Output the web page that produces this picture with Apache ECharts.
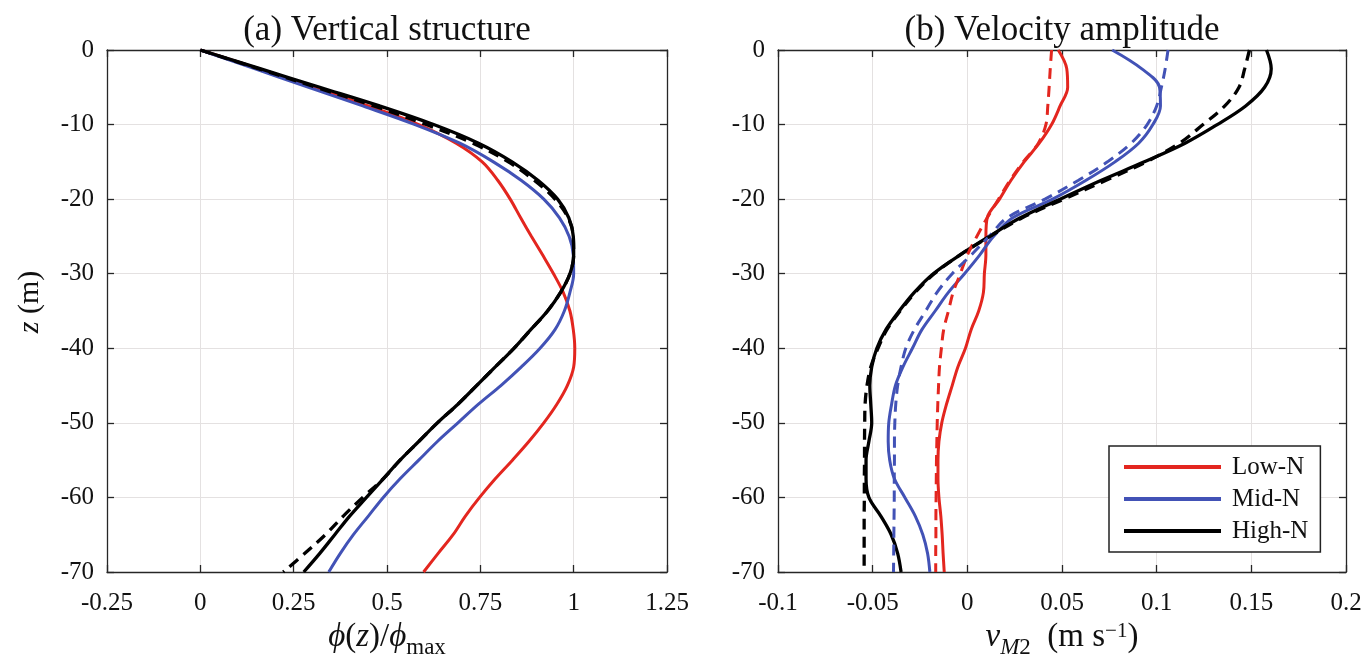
<!DOCTYPE html>
<html>
<head>
<meta charset="utf-8">
<title>Vertical structure and velocity amplitude</title>
<script src="https://cdn.jsdelivr.net/npm/echarts@6/dist/echarts.min.js"></script>
<style>
  html, body { margin: 0; padding: 0; background: #fff; }
  #chart { width: 1371px; height: 657px; }
</style>
</head>
<body>
<div id="chart"></div>
<script>
// Depth levels (m), shared by every profile
const depth = [0, -2.5, -5, -7.5, -10, -12.5, -15, -17.5, -20, -22.5, -25, -27.5, -30, -32.5,
  -35, -37.5, -40, -42.5, -45, -47.5, -50, -52.5, -55, -57.5, -60, -62.5, -65, -67.5, -70];

// (a) normalised vertical structure phi(z)/phi_max
const phiLow = [0, 0.155, 0.305, 0.45, 0.585, 0.685, 0.755, 0.797, 0.83, 0.858, 0.887, 0.917, 0.946, 0.972,
  0.99, 0.999, 1.003, 1.0, 0.983, 0.955, 0.92, 0.88, 0.836, 0.79, 0.748, 0.71, 0.677, 0.637, 0.598];
const phiMid = [0, 0.145, 0.29, 0.435, 0.575, 0.695, 0.785, 0.86, 0.92, 0.962, 0.988, 0.999, 1.0, 0.99,
  0.975, 0.95, 0.91, 0.86, 0.805, 0.745, 0.69, 0.635, 0.585, 0.535, 0.49, 0.45, 0.41, 0.375, 0.344];
const phiHigh = [0, 0.16, 0.32, 0.48, 0.625, 0.745, 0.835, 0.905, 0.957, 0.987, 0.999, 1.0, 0.99, 0.965,
  0.93, 0.885, 0.84, 0.79, 0.74, 0.69, 0.635, 0.585, 0.535, 0.49, 0.445, 0.40, 0.36, 0.32, 0.277];
const phiHighDash = [0, 0.155, 0.31, 0.465, 0.605, 0.73, 0.825, 0.895, 0.95, 0.985, 0.999, 1.0, 0.99, 0.965,
  0.93, 0.885, 0.84, 0.79, 0.74, 0.69, 0.635, 0.585, 0.535, 0.49, 0.435, 0.383, 0.335, 0.28, 0.222];

// (b) M2 velocity amplitude (m s^-1), solid and dashed profiles
const vLow = [0.048, 0.0525, 0.053, 0.049, 0.0445, 0.038, 0.030, 0.023, 0.017, 0.0105, 0.0098, 0.0098, 0.009,
  0.0085, 0.006, 0.002, -0.001, -0.005, -0.008, -0.011, -0.0135, -0.015, -0.0155, -0.0155, -0.015, -0.014,
  -0.0133, -0.0128, -0.0122];
const vLowDash = [0.0445, 0.0438, 0.0432, 0.0425, 0.0415, 0.0375, 0.0295, 0.0225, 0.0165, 0.0105, 0.005, 0.0,
  -0.0037, -0.0075, -0.010, -0.0125, -0.0137, -0.0147, -0.0152, -0.0156, -0.0159, -0.0161, -0.0163, -0.0164,
  -0.0165, -0.0166, -0.0166, -0.0167, -0.0167];
const vMid = [0.0765, 0.092, 0.1015, 0.102, 0.098, 0.0905, 0.078, 0.0625, 0.045, 0.024, 0.0138, 0.0065, -0.0015,
  -0.010, -0.017, -0.024, -0.029, -0.034, -0.038, -0.040, -0.0415, -0.0418, -0.041, -0.0385, -0.033, -0.0275,
  -0.0235, -0.021, -0.0198];
const vMidDash = [0.106, 0.1045, 0.1025, 0.100, 0.095, 0.0865, 0.074, 0.0585, 0.041, 0.021, 0.0115, 0.002, -0.008,
  -0.016, -0.022, -0.028, -0.0325, -0.035, -0.0368, -0.0378, -0.0383, -0.0385, -0.0385, -0.0386, -0.0386,
  -0.0387, -0.0388, -0.0389, -0.039];
const vHigh = [0.158, 0.1605, 0.157, 0.147, 0.132, 0.115, 0.0935, 0.0705, 0.049, 0.028, 0.0115, -0.004, -0.018,
  -0.028, -0.036, -0.043, -0.0478, -0.0505, -0.0515, -0.051, -0.0505, -0.052, -0.0535, -0.0535, -0.052, -0.0457,
  -0.0402, -0.0368, -0.035];
const vHighDash = [0.149, 0.1465, 0.1435, 0.136, 0.1245, 0.112, 0.0945, 0.073, 0.051, 0.029, 0.012, -0.004,
  -0.0175, -0.0275, -0.0355, -0.0425, -0.0472, -0.051, -0.053, -0.054, -0.0542, -0.0543, -0.0543, -0.0544,
  -0.0544, -0.0545, -0.0545, -0.0545, -0.0545];

// Tick labels
const phiTicks = ['-0.25', '0', '0.25', '0.5', '0.75', '1', '1.25'];
const vTicks = ['-0.1', '-0.05', '0', '0.05', '0.1', '0.15', '0.2'];
const zTicks = ['-70', '-60', '-50', '-40', '-30', '-20', '-10', '0'];

const SERIF = "'Liberation Serif', 'DejaVu Serif', 'Times New Roman', serif";
const RED = '#e3261f', BLUE = '#4252b6', BLACK = '#000000';
const AXIS_COLOR = '#262626';

function pair(xs) { return xs.map((x, i) => [x, depth[i]]); }
function tickFormatter(labels, min, step) {
  return v => labels[Math.round((v - min) / step)] ?? '';
}

const mainText = { fontFamily: SERIF, fontSize: 33, color: '#111', verticalAlign: 'bottom', padding: [0, 0, 6, 0] };
const axisNameRich = {
  it: Object.assign({}, mainText, { fontStyle: 'italic' }),
  up: Object.assign({}, mainText),
  sub: { fontFamily: SERIF, fontSize: 23, color: '#111', verticalAlign: 'bottom' },
  subit: { fontFamily: SERIF, fontSize: 23, color: '#111', fontStyle: 'italic', verticalAlign: 'bottom' },
  sup: { fontFamily: SERIF, fontSize: 21, color: '#111', verticalAlign: 'top' }
};
const yNameRich = {
  it: { fontFamily: SERIF, fontSize: 30, color: '#111', fontStyle: 'italic' },
  up: { fontFamily: SERIF, fontSize: 30, color: '#111' }
};

function xAxisPair(grid, min, max, step, labels, name) {
  const line = { show: true, onZero: false, lineStyle: { color: AXIS_COLOR, width: 1.3 } };
  const tick = { show: true, inside: true, length: 7, lineStyle: { color: AXIS_COLOR, width: 1.3 } };
  return [
    {
      type: 'value', gridIndex: grid, position: 'bottom', min, max, interval: step,
      axisLine: line, axisTick: tick,
      axisLabel: { fontFamily: SERIF, fontSize: 25, color: '#111', margin: 19,
        formatter: tickFormatter(labels, min, step) },
      splitLine: { show: true, lineStyle: { color: '#e4e1e1', width: 1 } },
      name, nameLocation: 'middle', nameGap: 47,
      nameTextStyle: { rich: axisNameRich }
    },
    {
      type: 'value', gridIndex: grid, position: 'top', min, max, interval: step,
      axisLine: line, axisTick: tick, axisLabel: { show: false }, splitLine: { show: false }
    }
  ];
}

function yAxisPair(grid, withName) {
  const line = { show: true, onZero: false, lineStyle: { color: AXIS_COLOR, width: 1.3 } };
  const tick = { show: true, inside: true, length: 7, lineStyle: { color: AXIS_COLOR, width: 1.3 } };
  const left = {
    type: 'value', gridIndex: grid, position: 'left', min: -70, max: 0, interval: 10,
    axisLine: line, axisTick: tick,
    axisLabel: { fontFamily: SERIF, fontSize: 25, color: '#111', margin: 13,
      formatter: tickFormatter(zTicks, -70, 10) },
    splitLine: { show: true, lineStyle: { color: '#e4e1e1', width: 1 } }
  };
  if (withName) {
    Object.assign(left, {
      name: '{it|z}{up| (m)}', nameLocation: 'middle', nameGap: 62, nameRotate: 90,
      nameTextStyle: { rich: yNameRich, padding: [0, 0, 0, 18] }
    });
  }
  return [
    left,
    {
      type: 'value', gridIndex: grid, position: 'right', min: -70, max: 0, interval: 10,
      axisLine: line, axisTick: tick, axisLabel: { show: false }, splitLine: { show: false }
    }
  ];
}

function profile(name, xs, color, width, dashed, xi, yi) {
  return {
    name, type: 'line', xAxisIndex: xi, yAxisIndex: yi,
    data: pair(xs), showSymbol: false, symbol: 'none', smooth: 0.35,
    lineStyle: { color, width, type: dashed ? [11, 7] : 'solid', cap: 'butt' },
    itemStyle: { color },
    z: dashed ? 3 : 2
  };
}

const chart = echarts.init(document.getElementById('chart'), null, { renderer: 'canvas' });
chart.setOption({
  animation: false,
  backgroundColor: '#ffffff',
  title: [
    { text: '(a) Vertical structure', left: 387, top: 13, textAlign: 'center', padding: 0,
      textStyle: { fontFamily: SERIF, fontSize: 35, fontWeight: 'normal', color: '#111' } },
    { text: '(b) Velocity amplitude', left: 1062, top: 13, textAlign: 'center', padding: 0,
      textStyle: { fontFamily: SERIF, fontSize: 35, fontWeight: 'normal', color: '#111' } }
  ],
  grid: [
    { left: 107, top: 50, width: 560, height: 522, outerBoundsMode: 'none', containLabel: false },
    { left: 778, top: 50, width: 568, height: 522, outerBoundsMode: 'none', containLabel: false }
  ],
  xAxis: [
    ...xAxisPair(0, -0.25, 1.25, 0.25, phiTicks, '{it|ϕ}{up|(}{it|z}{up|)/}{it|ϕ}{sub|max}'),
    ...xAxisPair(1, -0.1, 0.2, 0.05, vTicks, '{it|v}{subit|M}{sub|2}{up|  (m s}{sup|−1}{up|)}')
  ],
  yAxis: [
    ...yAxisPair(0, true),
    ...yAxisPair(1, false)
  ],
  legend: {
    data: ['Low-N', 'Mid-N', 'High-N'],
    orient: 'vertical', left: 1109, top: 446,
    icon: 'rect', itemWidth: 97, itemHeight: 4, itemGap: 6,
    padding: [8, 12, 8, 15],
    backgroundColor: '#ffffff', borderColor: '#222', borderWidth: 1.5, borderRadius: 0,
    textStyle: { fontFamily: SERIF, fontSize: 25, color: '#111', lineHeight: 26, padding: [0, 0, 0, 6] }
  },
  series: [
    profile('Low-N', phiLow, RED, 3, false, 0, 0),
    profile('Mid-N', phiMid, BLUE, 3, false, 0, 0),
    profile('High-N', phiHigh, BLACK, 3.3, false, 0, 0),
    profile('High-N dashed', phiHighDash, BLACK, 3.3, true, 0, 0),

    profile('Low-N', vLow, RED, 3, false, 2, 2),
    profile('Low-N dashed', vLowDash, RED, 3, true, 2, 2),
    profile('Mid-N', vMid, BLUE, 3, false, 2, 2),
    profile('Mid-N dashed', vMidDash, BLUE, 3, true, 2, 2),
    profile('High-N', vHigh, BLACK, 3.3, false, 2, 2),
    profile('High-N dashed', vHighDash, BLACK, 3.3, true, 2, 2)
  ]
});
</script>
</body>
</html>
